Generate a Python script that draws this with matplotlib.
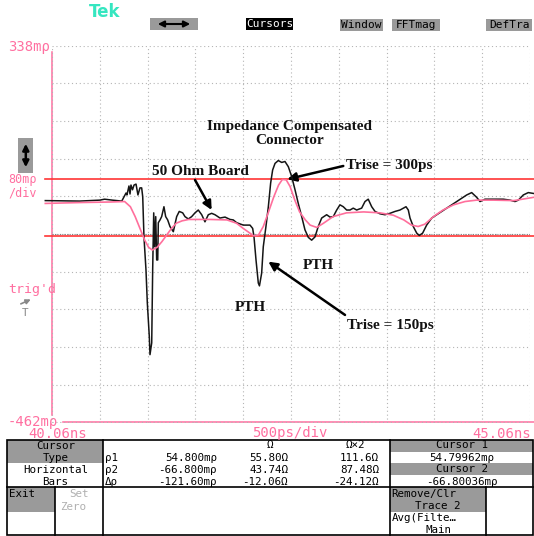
import numpy as np
import matplotlib.pyplot as plt
from matplotlib.patches import Rectangle

# TDR trace: time (ns) vs reflection (m-rho)
t_raw = [39.99, 40.35, 40.56, 40.61, 40.69, 40.79, 40.834, 40.844, 40.865, 40.876,
         40.886, 40.902, 40.918, 40.939, 40.959, 40.980, 40.998, 41.009, 41.022, 41.043,
         41.057, 41.078, 41.085, 41.103, 41.113, 41.124, 41.134, 41.145, 41.155, 41.166,
         41.172, 41.190, 41.207, 41.231, 41.249, 41.270, 41.294, 41.329, 41.364, 41.391,
         41.427, 41.451, 41.486, 41.521, 41.556, 41.590, 41.626, 41.660, 41.695, 41.730,
         41.765, 41.817, 41.870, 41.922, 41.956, 41.992, 42.061, 42.131, 42.159, 42.173,
         42.194, 42.218, 42.230, 42.253, 42.270, 42.298, 42.323, 42.347, 42.368, 42.393,
         42.427, 42.463, 42.497, 42.532, 42.567, 42.602, 42.636, 42.672, 42.706, 42.741,
         42.776, 42.811, 42.845, 42.881, 42.933, 42.968, 43.002, 43.038, 43.072, 43.107,
         43.142, 43.177, 43.211, 43.247, 43.299, 43.334, 43.368, 43.404, 43.439, 43.491,
         43.543, 43.595, 43.648, 43.700, 43.735, 43.763, 43.787, 43.805, 43.839, 43.875,
         43.902, 43.937, 43.979, 44.032, 44.084, 44.136, 44.188, 44.241, 44.293, 44.345,
         44.398, 44.450, 44.502, 44.537, 44.589, 44.676, 44.781, 44.851, 44.903, 44.938,
         44.990, 45.042, 45.102]
rho_raw = [9, 8, 10, 12, 10, 8, 25, 21, 40, 23,
           42, 32, 42, 44, 21, 36, 36, 17, -68, -138,
           -208, -280, -318, -293, -138, -17, -89, -25, -117, -117,
           -38, -32, -25, -4, -25, -32, -46, -57, -25, -14,
           -17, -25, -30, -25, -17, -11, -21, -36, -21, -18,
           -21, -28, -26, -31, -32, -38, -43, -43, -50, -68,
           -117, -166, -172, -145, -89, -46, -4, 46, 74, 88,
           94, 90, 92, 81, 60, 32, 3, -25, -53, -69,
           -75, -68, -46, -28, -21, -26, -25, -11, 0, -4,
           -11, -11, -7, -11, -7, 7, 12, -4, -14, -19,
           -21, -18, -14, -11, -7, -4, -11, -28, -46, -60,
           -65, -60, -43, -28, -21, -14, -7, 0, 7, 14,
           21, 26, 16, 7, 12, 12, 12, 10, 7, 10,
           21, 26, 24]

# filtered (slower rise time) trace
t_avg = [39.99, 40.38, 40.67, 40.82, 40.88, 40.93, 40.98, 41.03, 41.07, 41.11,
         41.16, 41.21, 41.26, 41.31, 41.36, 41.42, 41.49, 41.61, 41.71, 41.89,
         41.99, 42.06, 42.13, 42.17, 42.22, 42.27, 42.32, 42.38, 42.43, 42.47,
         42.51, 42.55, 42.60, 42.65, 42.71, 42.76, 42.83, 42.90, 43.00, 43.14,
         43.32, 43.49, 43.63, 43.74, 43.82, 43.89, 43.96, 44.05, 44.15, 44.26,
         44.38, 44.50, 44.68, 44.89, 45.01, 45.10]
rho_avg = [3, 5, 6, 7, -4, -25, -50, -75, -90, -96,
           -90, -78, -64, -50, -39, -34, -31, -31, -31, -32,
           -39, -50, -60, -66, -64, -46, -18, 17, 42, 54,
           53, 39, 10, -15, -32, -43, -48, -39, -25, -17,
           -15, -17, -22, -32, -43, -46, -41, -25, -11, 0,
           7, 10, 10, 9, 13, 16]

cursor1 = 54.79962
cursor2 = -66.80036
t_start, t_end = 40.06, 45.06
rho_top, rho_bot = 338, -462

PINK = '#ff6fa0'
RED = '#ff3535'
GREY = '#9a9a9a'
MONO = 'DejaVu Sans Mono'
TS = 7.8   # readout table font size

fig = plt.figure(figsize=(5.34, 5.36), dpi=100)

# overlay in screen pixels for the scope UI
ui = fig.add_axes([0, 0, 1, 1])
ui.set_xlim(0, 534)
ui.set_ylim(536, 0)
ui.axis('off')


def tek(x, y, s, ha='left', color='black', size=TS):
    ui.text(x, y, s, ha=ha, va='center', family=MONO, fontsize=size, color=color)


def box(x0, y0, x1, y1, fc):
    ui.add_patch(Rectangle((x0, y0), x1 - x0, y1 - y0, facecolor=fc, edgecolor='none'))


# top menu bar
ui.text(89, 12, 'Tek', color='#35e6c0', fontsize=12, fontweight='bold', va='center')
box(150, 17.7, 198.3, 30, GREY)
ui.annotate('', xy=(193, 24), xytext=(155, 24),
            arrowprops=dict(arrowstyle='<|-|>', color='black', lw=1.5, mutation_scale=9))
box(246, 18.3, 293.3, 30, 'black')
tek(269.6, 24, 'Cursors', ha='center', color='white', size=8)
for x0, x1, s in [(340, 383, 'Window'), (392, 440, 'FFTmag'), (486, 532, 'DefTra')]:
    box(x0, 18.5, x1, 30.5, GREY)
    tek((x0 + x1) / 2, 24.5, s, ha='center', size=8)

# left side labels
tek(8, 47.5, '338mρ', color=PINK, size=10)
box(18.3, 138.3, 33.3, 172.7, GREY)
ui.annotate('', xy=(25.8, 170), xytext=(25.8, 141),
            arrowprops=dict(arrowstyle='<|-|>', color='black', lw=1.8, mutation_scale=9))
tek(8, 179.5, '80mρ', color=PINK, size=8.5)
tek(8, 193, '/div', color=PINK, size=8.5)
tek(8, 290, "trig'd", color=PINK, size=9.5)
ui.annotate('', xy=(33.3, 298.3), xytext=(18.3, 305),
            arrowprops=dict(arrowstyle='-|>', color='#888888', lw=1.2, mutation_scale=7))
tek(25, 313, 'T', ha='center', color='#888888', size=8)
tek(8, 421.7, '-462mρ', color=PINK, size=10)
ui.plot([51.7, 51.7], [52, 415], color=PINK, lw=1.1)
ui.plot([63, 534], [422.3, 422.3], color=PINK, lw=1.1)
tek(28, 433.5, f'{t_start:.2f}ns', color=PINK, size=10)
tek(289.5, 433.5, '500ps/div', ha='center', color=PINK, size=10)
tek(531, 433.5, f'{t_end:.2f}ns', ha='right', color=PINK, size=10)

# cursor readout table
box(7.3, 440, 103.3, 463.3, GREY)
box(7.3, 487.3, 55, 511.7, GREY)
box(390, 440, 533, 451.7, GREY)
box(390, 463.3, 533, 475, GREY)
box(390, 487.3, 485.7, 511.7, GREY)
lw_t = 1.2
ui.add_patch(Rectangle((7.3, 440), 525.7, 95, facecolor='none', edgecolor='black', lw=lw_t))
for x in [103.3, 390]:
    ui.plot([x, x], [440, 535], color='black', lw=lw_t)
ui.plot([7.3, 533], [487.3, 487.3], color='black', lw=lw_t)
ui.plot([55, 55], [487.3, 535], color='black', lw=lw_t)
ui.plot([485.7, 485.7], [487.3, 535], color='black', lw=lw_t)

tek(55.3, 445.7, 'Cursor', ha='center')
tek(55.3, 458.3, 'Type', ha='center')
tek(55.3, 470, 'Horizontal', ha='center')
tek(55.3, 482, 'Bars', ha='center')
tek(8.5, 494.3, 'Exit')
tek(79, 494.3, 'Set', ha='center', color='#b0b0b0')
tek(73.5, 506.7, 'Zero', ha='center', color='#b0b0b0')

z1 = 50 * (1 + cursor1 / 1000) / (1 - cursor1 / 1000)
z2 = 50 * (1 + cursor2 / 1000) / (1 - cursor2 / 1000)
row_names = ['ρ1', 'ρ2', 'Δρ']
rho_vals = [f'{cursor1:.3f}mρ', f'{cursor2:.3f}mρ', f'{cursor2 - cursor1:.2f}mρ']
ohm_vals = [f'{z1:.2f}Ω', f'{z2:.2f}Ω', f'{z2 - z1:.2f}Ω']
ohm2_vals = [f'{2 * z1:.1f}Ω', f'{2 * z2:.2f}Ω', f'{2 * (z2 - z1):.2f}Ω']
tek(270, 445, 'Ω', ha='center')
tek(355, 445, 'Ω×2', ha='center')
for i, y in enumerate([457.7, 470, 482]):
    tek(104.5, y, row_names[i])
    tek(217, y, rho_vals[i], ha='right')
    tek(288, y, ohm_vals[i], ha='right')
    tek(379, y, ohm2_vals[i], ha='right')

tek(461.5, 445.5, 'Cursor 1', ha='center')
tek(461.5, 457.7, f'{cursor1:.5f}mρ', ha='center')
tek(461.5, 469.5, 'Cursor 2', ha='center')
tek(461.5, 482, f'{cursor2:.5f}mρ', ha='center')
tek(391.5, 494.3, 'Remove/Clr')
tek(438, 506, 'Trace 2', ha='center')
tek(391.5, 518, 'Avg(Filte…')
tek(438, 530, 'Main', ha='center')

# scope graticule and traces
ax = fig.add_axes([52 / 534, (536 - 422.5) / 536, 478 / 534, 376.9 / 536])
ax.set_facecolor('none')
ax.set_xlim(t_start, t_end)
ax.set_ylim(rho_bot, rho_top)
ax.set_xticks(np.linspace(t_start, t_end, 11))
ax.set_yticks(np.linspace(rho_bot, rho_top, 11))
ax.tick_params(length=0, labelbottom=False, labelleft=False)
ax.grid(True, color='#b5b5b5', lw=0.8, ls=(0, (1, 2.5)))
for sp in ax.spines.values():
    sp.set_visible(False)
ax.axhline((rho_top + rho_bot) / 2, color='#808080', lw=0.8, ls=(0, (1, 1.2)))

for c in [cursor1, cursor2]:
    ax.axhline(c, xmin=-7 / 478, xmax=482 / 478, color=RED, lw=1.2, clip_on=False, zorder=3)

ax.plot(t_raw, rho_raw, color='#151515', lw=1.1, clip_on=False, zorder=4)
ax.plot(t_avg, rho_avg, color='#ff6f9c', lw=1.2, clip_on=False, zorder=5)

serif = dict(family=['Liberation Serif', 'DejaVu Serif'], fontweight='bold', fontsize=11,
             color='#111111', ha='center', va='center')
ax.text(42.549, 151.5, 'Impedance Compensated\nConnector', linespacing=1.15, **serif)
ax.text(41.611, 69.8, '50 Ohm Board', **serif)
ax.text(43.585, 82.5, 'Trise = 300ps', **serif)
ax.text(42.850, -129.0, 'PTH', **serif)
ax.text(42.134, -218.8, 'PTH', **serif)
ax.text(43.604, -256.6, 'Trise = 150ps', **serif)

arrow = dict(arrowstyle='-|>', color='black', lw=1.8, mutation_scale=13, shrinkA=0, shrinkB=0)
ax.annotate('', xy=(41.730, -10.9), xytext=(41.556, 52.8), arrowprops=arrow, annotation_clip=False)
ax.annotate('', xy=(42.521, 54.3), xytext=(43.107, 82.5), arrowprops=arrow, annotation_clip=False)
ax.annotate('', xy=(42.323, -120.6), xytext=(43.125, -233.7), arrowprops=arrow, annotation_clip=False)

fig.savefig('out.png', dpi=100)
